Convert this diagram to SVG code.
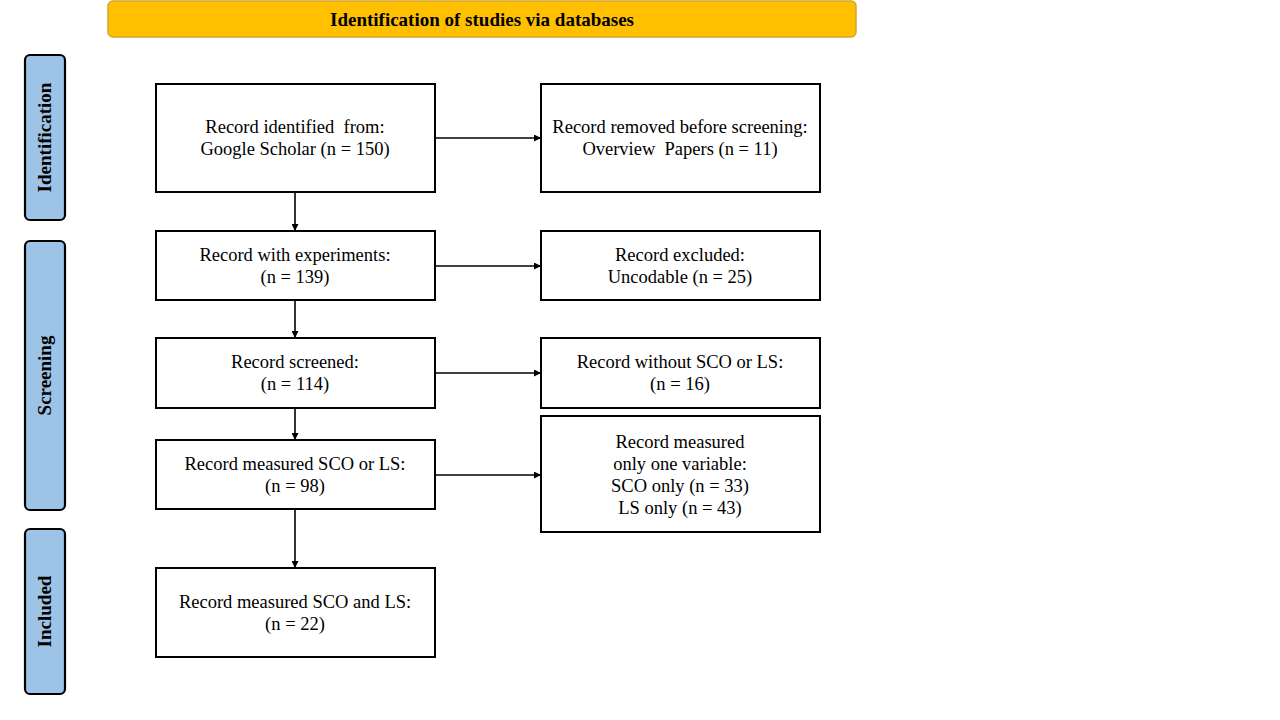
<svg xmlns="http://www.w3.org/2000/svg" width="1280" height="720" viewBox="0 0 1280 720">
<defs>
<marker id="ah" viewBox="0 0 10 10" refX="10" refY="5" markerWidth="7" markerHeight="7" orient="auto" markerUnits="userSpaceOnUse"><path d="M0,0 L10,5 L0,10 z" fill="#000"/></marker>
<style>
.box{fill:#fff;stroke:#000;stroke-width:2}
.side{fill:#9DC3E6;stroke:#000;stroke-width:2.2}
.t{font-family:"Liberation Serif","Times New Roman",serif;font-size:18.5px;fill:#000;text-anchor:middle;white-space:pre}
.st{font-family:"Liberation Serif","Times New Roman",serif;font-size:19px;font-weight:bold;fill:#000;text-anchor:middle}
.c{stroke:#000;stroke-width:1.6;fill:none;marker-end:url(#ah)}
</style>
</defs>
<rect width="1280" height="720" fill="#fff"/>
<g id="header">
<rect x="108" y="1" width="748" height="36" rx="5" fill="#FFC000" stroke="#D4A72C" stroke-width="1.5"/>
<text class="st" x="482" y="26">Identification of studies via databases</text>
</g>
<g id="side-identification">
<rect class="side" x="25" y="55" width="40" height="165" rx="5"/>
<text class="st" transform="translate(51,137.5) rotate(-90)">Identification</text>
</g>
<g id="side-screening">
<rect class="side" x="25" y="241" width="40" height="269" rx="5"/>
<text class="st" transform="translate(51,375.5) rotate(-90)">Screening</text>
</g>
<g id="side-included">
<rect class="side" x="25" y="529" width="40" height="165" rx="5"/>
<text class="st" transform="translate(51,611.5) rotate(-90)">Included</text>
</g>
<g id="n1">
<rect class="box" x="156" y="84" width="279" height="108"/>
<text class="t" x="295" y="133" xml:space="preserve">Record identified  from:</text>
<text class="t" x="295" y="155">Google Scholar (n = 150)</text>
</g>
<g id="n2">
<rect class="box" x="156" y="231" width="279" height="69"/>
<text class="t" x="295" y="261">Record with experiments:</text>
<text class="t" x="295" y="283">(n = 139)</text>
</g>
<g id="n3">
<rect class="box" x="156" y="338" width="279" height="70"/>
<text class="t" x="295" y="368">Record screened:</text>
<text class="t" x="295" y="390">(n = 114)</text>
</g>
<g id="n4">
<rect class="box" x="156" y="440" width="279" height="69"/>
<text class="t" x="295" y="470">Record measured SCO or LS:</text>
<text class="t" x="295" y="492">(n = 98)</text>
</g>
<g id="n5">
<rect class="box" x="156" y="568" width="279" height="89"/>
<text class="t" x="295" y="608">Record measured SCO and LS:</text>
<text class="t" x="295" y="630">(n = 22)</text>
</g>
<g id="r1">
<rect class="box" x="541" y="84" width="279" height="108"/>
<text class="t" x="680" y="133">Record removed before screening:</text>
<text class="t" x="680" y="155" xml:space="preserve">Overview  Papers (n = 11)</text>
</g>
<g id="r2">
<rect class="box" x="541" y="231" width="279" height="69"/>
<text class="t" x="680" y="261">Record excluded:</text>
<text class="t" x="680" y="283">Uncodable (n = 25)</text>
</g>
<g id="r3">
<rect class="box" x="541" y="338" width="279" height="70"/>
<text class="t" x="680" y="368">Record without SCO or LS:</text>
<text class="t" x="680" y="390">(n = 16)</text>
</g>
<g id="r4">
<rect class="box" x="541" y="416" width="279" height="116"/>
<text class="t" x="680" y="448">Record measured</text>
<text class="t" x="680" y="470">only one variable:</text>
<text class="t" x="680" y="492">SCO only (n = 33)</text>
<text class="t" x="680" y="514">LS only (n = 43)</text>
</g>
<g id="connectors">
<line class="c" x1="295" y1="192" x2="295" y2="231"/>
<line class="c" x1="295" y1="300" x2="295" y2="338"/>
<line class="c" x1="295" y1="408" x2="295" y2="440"/>
<line class="c" x1="295" y1="509" x2="295" y2="568"/>
<line class="c" x1="435" y1="138" x2="541" y2="138"/>
<line class="c" x1="435" y1="266" x2="541" y2="266"/>
<line class="c" x1="435" y1="373" x2="541" y2="373"/>
<line class="c" x1="435" y1="475" x2="541" y2="475"/>
</g>
</svg>
